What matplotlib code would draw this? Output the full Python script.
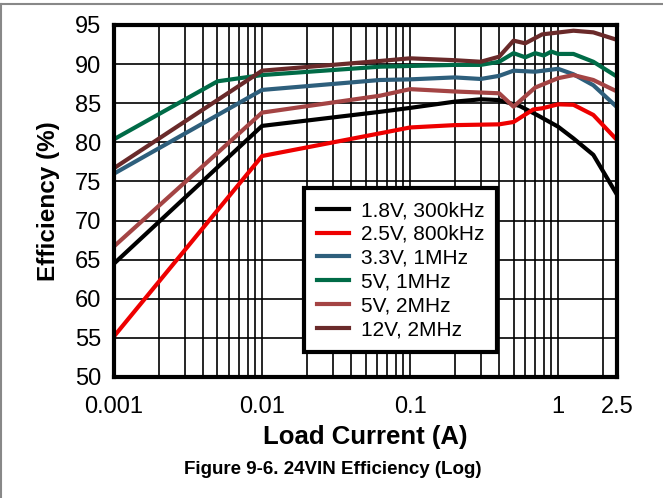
import matplotlib
matplotlib.use("Agg")
import matplotlib.pyplot as plt
from matplotlib.lines import Line2D
from matplotlib.ticker import FixedLocator, NullFormatter

plt.rcParams['font.family'] = ['Liberation Sans', 'DejaVu Sans']

# Efficiency (%) vs load current (A)
x_18 = [0.001, 0.01, 0.0626, 0.1, 0.2, 0.3, 0.4, 0.55, 0.72, 1.0, 1.27, 1.73, 2.5]
y_18 = [64.5, 82.1, 83.9, 84.4, 85.2, 85.5, 85.4, 84.65, 83.5, 82.0, 80.5, 78.4, 73.3]

x_25 = [0.001, 0.01, 0.0626, 0.1, 0.2, 0.4, 0.5, 0.68, 0.78, 1.0, 1.27, 1.73, 2.5]
y_25 = [55.2, 78.25, 81.15, 81.9, 82.2, 82.3, 82.6, 84.2, 84.35, 84.86, 84.8, 83.5, 80.3]

x_33 = [0.001, 0.01, 0.0626, 0.1, 0.2, 0.3, 0.4, 0.5, 0.7, 1.0, 1.27, 1.73, 2.5]
y_33 = [76.0, 86.7, 87.97, 88.05, 88.3, 88.1, 88.5, 89.16, 89.03, 89.4, 88.7, 87.3, 84.5]

x_5a = [0.001, 0.005, 0.01, 0.0626, 0.2, 0.3, 0.4, 0.5, 0.6, 0.7, 0.8, 0.9, 1.0, 1.27, 1.73, 2.5]
y_5a = [80.4, 87.8, 88.6, 89.67, 89.9, 89.9, 90.3, 91.4, 90.87, 91.4, 91.1, 91.6, 91.3, 91.3, 90.3, 88.4]

x_5b = [0.001, 0.01, 0.0626, 0.1, 0.2, 0.4, 0.5, 0.7, 1.0, 1.27, 1.73, 2.5]
y_5b = [66.7, 83.8, 85.96, 86.8, 86.5, 86.27, 84.56, 87.0, 88.2, 88.6, 87.97, 86.5]

x_12 = [0.001, 0.01, 0.0626, 0.1, 0.2, 0.3, 0.4, 0.5, 0.6, 0.78, 1.27, 1.73, 2.5]
y_12 = [76.7, 89.16, 90.4, 90.74, 90.5, 90.3, 90.95, 93.0, 92.66, 93.8, 94.27, 94.06, 93.1]

series = [
    ("1.8V, 300kHz", x_18, y_18, "#000000"),
    ("2.5V, 800kHz", x_25, y_25, "#ee0000"),
    ("3.3V, 1MHz", x_33, y_33, "#2e5f7c"),
    ("5V, 1MHz", x_5a, y_5a, "#006b47"),
    ("5V, 2MHz", x_5b, y_5b, "#a44444"),
    ("12V, 2MHz", x_12, y_12, "#6a2a2a"),
]

xticks = [0.001, 0.01, 0.1, 1, 2.5]
xticklabels = ["0.001", "0.01", "0.1", "1", "2.5"]
yticks = [50, 55, 60, 65, 70, 75, 80, 85, 90, 95]

fig = plt.figure(figsize=(6.63, 4.98), dpi=100)
ax = fig.add_axes([0.172, 0.243, 0.7586, 0.7068])

for label, xs, ys, c in series:
    ax.plot(xs, ys, color=c, lw=3, label=label, solid_joinstyle='round')

ax.set_xscale('log')
ax.set_xlim(0.001, 2.5)
ax.set_ylim(50, 95)
ax.set_yticks(yticks)
ax.set_xticks(xticks)
ax.set_xticklabels(xticklabels)
minors = [m * 10.0 ** d for d in range(-3, 1) for m in range(2, 10)]
minors = [v for v in minors if v < 2.5]
ax.xaxis.set_minor_locator(FixedLocator(minors))
ax.xaxis.set_minor_formatter(NullFormatter())
ax.grid(True, which='both', color='black', lw=1.2)
ax.set_axisbelow(True)
ax.tick_params(which='both', length=0, labelsize=17)
ax.tick_params(axis='y', pad=9)
ax.tick_params(axis='x', pad=13.5)
for s in ax.spines.values():
    s.set_linewidth(3)

ax.set_xlabel("Load Current (A)", fontsize=18.5, fontweight='bold', labelpad=5)
ax.set_ylabel("Efficiency (%)", fontsize=17.5, fontweight='bold', labelpad=11)

leg = ax.legend(loc='lower left', bbox_to_anchor=(0.378, 0.071, 0.384, 0.474),
                mode='expand', fontsize=15, frameon=True, fancybox=False,
                handlelength=1.55, handletextpad=0.55, labelspacing=0.23,
                borderaxespad=0, borderpad=0.62)
leg.get_frame().set_edgecolor('black')
leg.get_frame().set_linewidth(3)
leg.get_frame().set_alpha(1)

fig.text(0.502, 0.057, "Figure 9-6. 24VIN Efficiency (Log)", ha='center', va='center',
         fontsize=13.5, fontweight='bold')

# page frame lines
fig.add_artist(Line2D([0, 1], [0.992, 0.992], color='#888888', lw=1.5, transform=fig.transFigure))
fig.add_artist(Line2D([0.002, 0.002], [0, 0.992], color='#888888', lw=1.5, transform=fig.transFigure))

fig.savefig("out.png", dpi=100)
